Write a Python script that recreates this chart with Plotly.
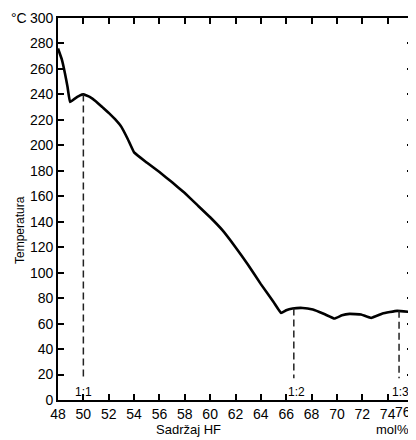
import plotly.graph_objects as go

# Liquidus curve of the KF–HF system
hf_mol = [48, 48.3, 48.55, 48.75, 48.95, 49.3, 49.7, 50, 50.5, 51, 51.5, 52, 52.5, 53, 53.5, 54,
          55, 56, 57, 58, 59, 60, 61, 62, 63, 64, 65, 65.6,
          66.0, 66.5, 67.3, 68.1, 69.0, 69.8, 70.4, 71.0, 71.9, 72.7, 73.6, 74.75, 75.9]
temp_c = [276, 267.5, 256.5, 246, 234, 236.5, 239, 240, 238, 234.5, 230, 225.5, 220.5, 214.5, 205, 194.5,
          186.5, 179, 171, 162.5, 153, 143.5, 133, 120, 106, 91, 77, 68.3,
          70.5, 71.8, 72.3, 71, 67.5, 64, 66.5, 67.6, 67.2, 64.5, 68, 70, 69]

# Compound compositions (dashed markers)
comp_labels = ["1:1", "1:2", "1:3"]
comp_x = [50, 66.6, 74.9]
comp_top = [240, 71.9, 70]
comp_bottom = 17
comp_label_x = [50, 66.8, 75.0]

x_ticks = list(range(48, 77, 2))
x_ticktext = [str(v) for v in x_ticks[:-1]] + [""]
y_ticks = list(range(0, 301, 20))

FONT = "Liberation Sans, Arial, sans-serif"

fig = go.Figure()
fig.add_trace(go.Scatter(x=hf_mol, y=temp_c, mode="lines",
                         line=dict(color="black", width=2.6, shape="spline", smoothing=0.25),
                         hoverinfo="skip", showlegend=False))
for lab, cx, ct, lx in zip(comp_labels, comp_x, comp_top, comp_label_x):
    fig.add_trace(go.Scatter(x=[cx, cx], y=[ct, comp_bottom], mode="lines",
                             line=dict(color="#222", width=1.5, dash="7px,4px"),
                             hoverinfo="skip", showlegend=False))
    fig.add_annotation(x=lx, y=6, text=lab, showarrow=False, yanchor="middle",
                       font=dict(family=FONT, size=12, color="black"))

# "76" squeezed against the right edge, as in the original
fig.add_annotation(x=x_ticks[-1], y=0, text=str(x_ticks[-1]), showarrow=False,
                   xanchor="right", yanchor="top", xshift=0, yshift=-2,
                   font=dict(family=FONT, size=14, color="black"))

fig.add_annotation(xref="paper", yref="paper", x=-0.11, y=1.0, text="°C",
                   showarrow=False, xanchor="center", yanchor="middle",
                   font=dict(family=FONT, size=14, color="black"))
fig.add_annotation(xref="paper", yref="paper", x=0.368, y=-0.076, text="Sadržaj HF",
                   showarrow=False, xanchor="center", yanchor="middle",
                   font=dict(family=FONT, size=13, color="black"))
fig.add_annotation(xref="paper", yref="paper", x=0.941, y=-0.076, text="mol%",
                   showarrow=False, xanchor="center", yanchor="middle",
                   font=dict(family=FONT, size=13, color="black"))
fig.add_annotation(xref="paper", yref="paper", x=-0.107, y=0.445, text="Temperatura",
                   showarrow=False, xanchor="center", yanchor="middle", textangle=-90,
                   font=dict(family=FONT, size=12, color="black"))

# The page adds an 8px body margin, so the figure is 8px smaller than the window
fig.update_layout(
    width=408, height=432,
    margin=dict(l=50, r=3, t=10, b=40),
    paper_bgcolor="white", plot_bgcolor="white",
    font=dict(family=FONT, size=14, color="black"),
    xaxis=dict(range=[48, 76], tickvals=x_ticks, ticktext=x_ticktext,
               ticks="inside", ticklen=6, tickwidth=1.5, tickcolor="black",
               showline=True, linecolor="black", linewidth=1.8, mirror="ticks",
               showgrid=False, zeroline=False, automargin=False,
               tickfont=dict(size=14)),
    yaxis=dict(range=[0, 300], tickvals=y_ticks, ticktext=[str(v) for v in y_ticks],
               ticks="inside", ticklen=6, tickwidth=1.5, tickcolor="black",
               showline=True, linecolor="black", linewidth=1.8, mirror="ticks",
               showgrid=False, zeroline=False, automargin=False,
               tickfont=dict(size=14)),
)

fig.write_html("out.html")
